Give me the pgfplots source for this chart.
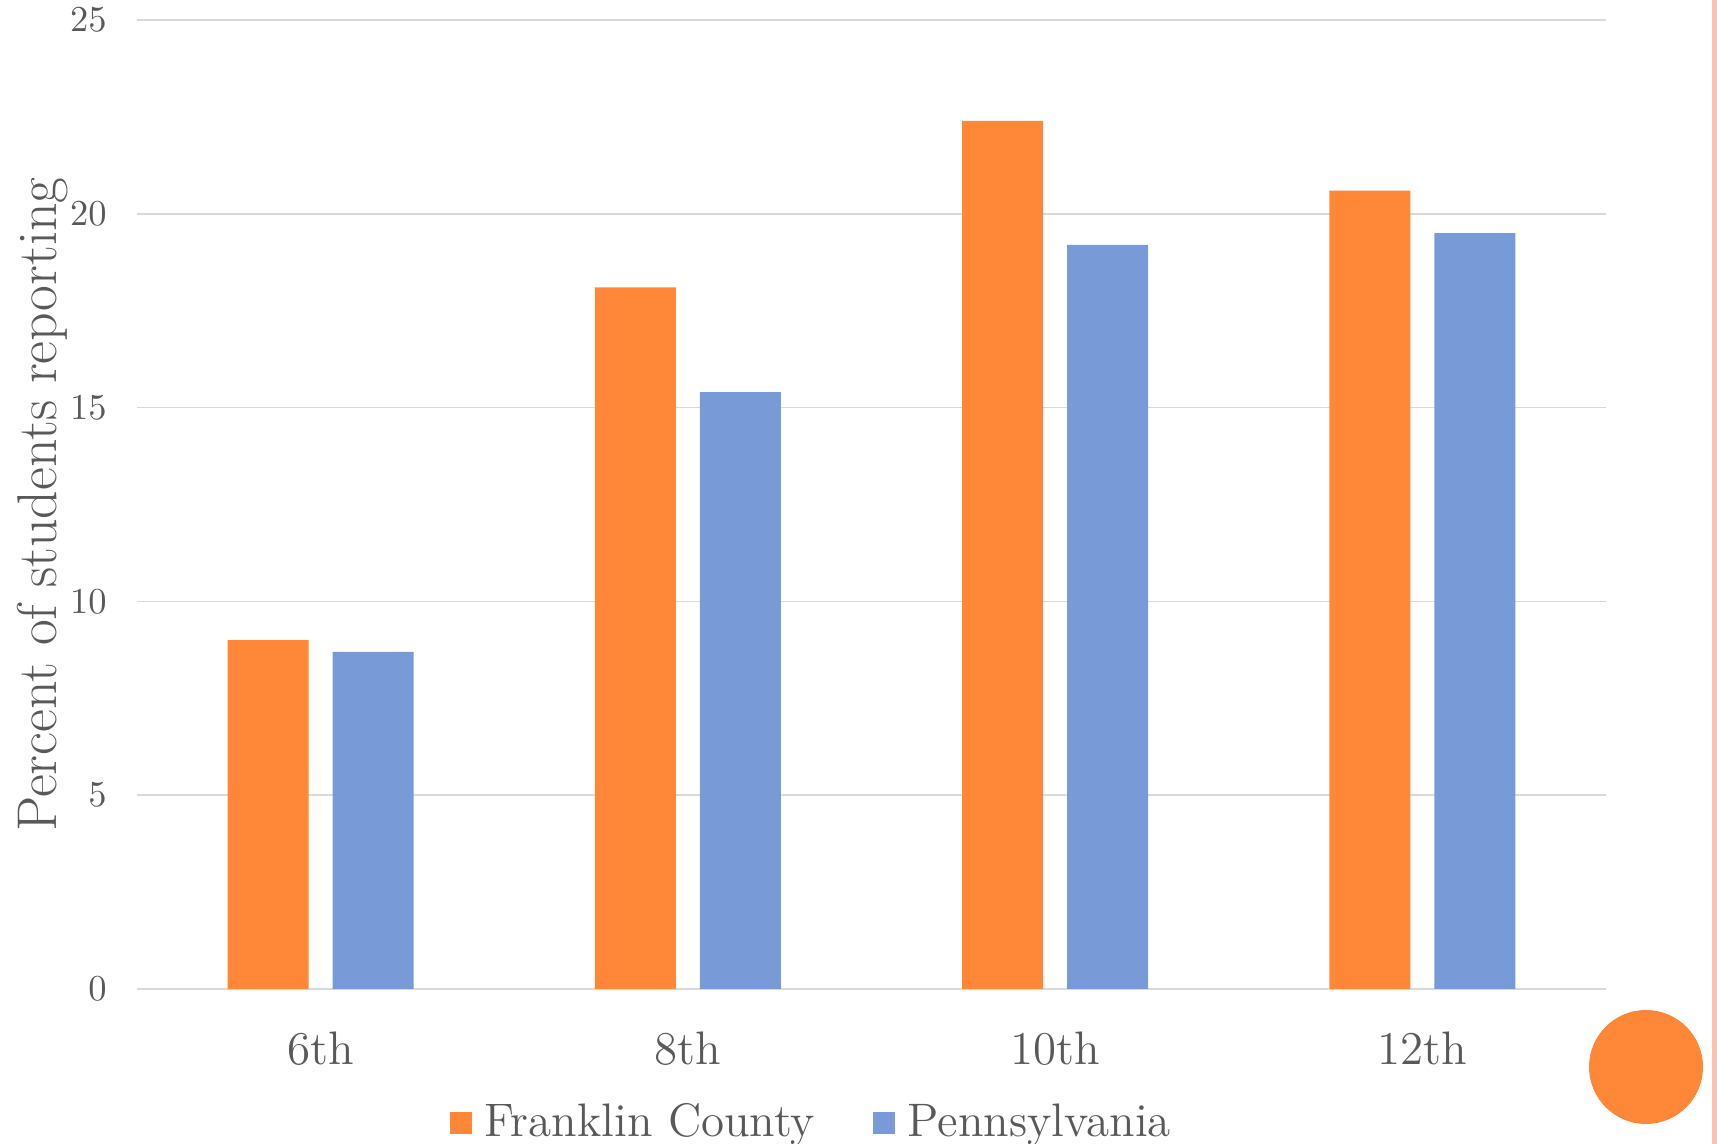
\documentclass[border=0pt]{standalone}
\usepackage{pgfplots}
\pgfplotsset{compat=1.18}
\definecolor{fc}{HTML}{FF8838}
\definecolor{pa}{HTML}{789AD7}
\definecolor{gridc}{HTML}{D9D9D9}
\definecolor{txt}{HTML}{595959}
\definecolor{pinkc}{HTML}{F9C3AE}
\begin{document}
\begin{tikzpicture}[x=1pt,y=1pt]
\path[use as bounding box] (0,0) rectangle (515.1,343.2);
\fill[pinkc] (513.6,0) rectangle (515.1,343.2);
\fill[fc] (493.8,23.1) circle (17.1);
\begin{axis}[at={(41.1pt,46.5pt)}, anchor=south west, scale only axis,
 width=440.7pt, height=290.7pt,
 xmin=-0.5, xmax=3.5, ymin=0, ymax=25,
 xtick={0,1,2,3}, xticklabels={6th,8th,10th,12th},
 ytick={0,5,10,15,20,25},
 ymajorgrids, grid style={gridc, line width=0.5pt},
 axis line style={draw=none},
 major tick length=0pt,
 tick label style={text=txt},
 xticklabel style={font=\fontsize{14.1}{16}\selectfont, yshift=-9.3pt},
 yticklabel style={font=\fontsize{11}{13}\selectfont, xshift=-5.6pt},
 ylabel={Percent of students reporting},
 every axis y label/.style={at={(axis description cs:-0.0640,0.5)}, rotate=90, anchor=center, font=\fontsize{16.8}{20}\selectfont, text=txt},
 legend style={at={(axis description cs:0.2124,-0.138)}, anchor=west, draw=none, fill=none, inner sep=0pt,
   font=\fontsize{14.1}{17}\selectfont, text=txt,
   /tikz/every odd column/.append style={column sep=3.9pt},
   /tikz/every even column/.append style={column sep=17.3pt},
   nodes={inner sep=0pt}},
 legend columns=2,
 legend image code/.code={\fill[#1] (0pt,-3.3pt) rectangle (6.6pt,3.3pt);},
]
\addplot[ybar, bar width=0.22, bar shift=-0.143, fill=fc, draw=none] coordinates {(0,9.0) (1,18.1) (2,22.4) (3,20.6)};
\addplot[ybar, bar width=0.22, bar shift=0.143, fill=pa, draw=none] coordinates {(0,8.7) (1,15.4) (2,19.2) (3,19.5)};
\legend{Franklin County, Pennsylvania}
\end{axis}
\end{tikzpicture}
\end{document}
